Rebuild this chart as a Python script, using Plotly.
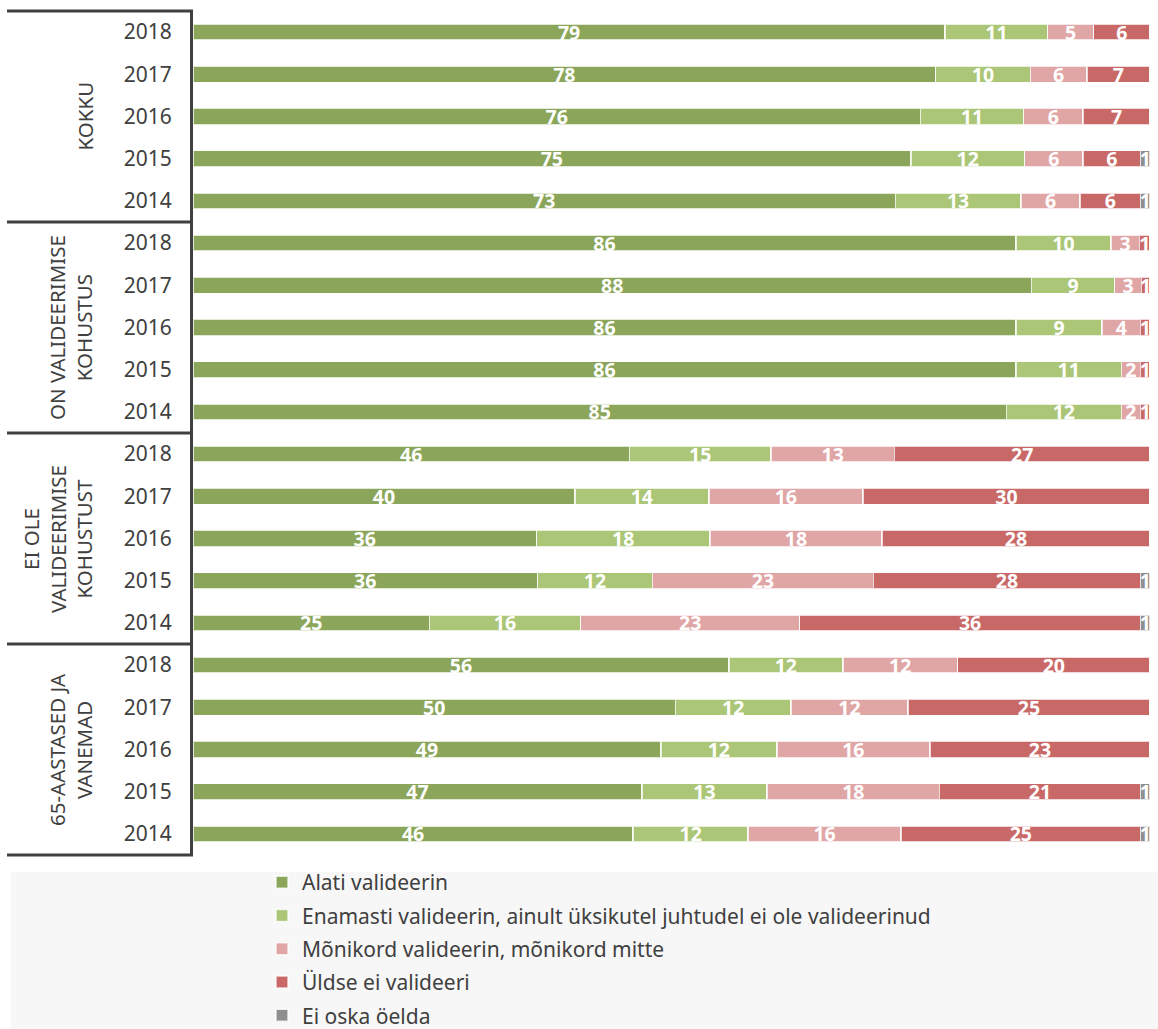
import plotly.graph_objects as go

# ---- data ----
groups = ["KOKKU", "ON VALIDEERIMISE<br>KOHUSTUS", "EI OLE<br>VALIDEERIMISE<br>KOHUSTUST", "65-AASTASED JA<br>VANEMAD"]
years = ["2018", "2017", "2016", "2015", "2014"]

series_names = [
    "Alati valideerin",
    "Enamasti valideerin, ainult üksikutel juhtudel ei ole valideerinud",
    "Mõnikord valideerin, mõnikord mitte",
    "Üldse ei valideeri",
    "Ei oska öelda",
]

# values per row (groups x years, top to bottom)
alati = [78.6, 77.6, 76.0, 75.0, 73.4,
         86.0, 87.6, 86.0, 86.0, 85.0,
         45.6, 39.9, 35.9, 36.0, 24.7,
         56.0, 50.4, 48.9, 46.9, 46.0]
enamasti = [10.7, 9.9, 10.8, 11.9, 13.1,
            9.9, 8.7, 9.0, 11.0, 12.0,
            14.8, 14.0, 18.1, 12.0, 15.8,
            11.9, 12.1, 12.1, 13.1, 12.0]
monikord = [4.8, 5.9, 6.2, 6.1, 6.2,
            3.0, 2.8, 4.0, 2.0, 2.0,
            12.9, 16.1, 18.0, 23.1, 22.9,
            12.0, 12.2, 16.0, 18.0, 16.0]
uldse = [5.9, 6.6, 7.0, 6.0, 6.3,
         1.1, 0.9, 1.0, 1.0, 1.0,
         26.7, 30.0, 28.0, 27.9, 35.6,
         20.1, 25.3, 23.0, 21.0, 25.0]
ei_oska = [0, 0, 0, 1.0, 1.0,
           0, 0, 0, 0, 0,
           0, 0, 0, 1.0, 1.0,
           0, 0, 0, 1.0, 1.0]

colors = ["#8BA65A", "#AAC676", "#E0A6A6", "#C96967", "#8F8F8F"]

series = [alati, enamasti, monikord, uldse, ei_oska]

n_rows = len(groups) * len(years)
ypos = list(range(n_rows))
ticktext = years * len(groups)

fig = go.Figure()
for name, vals, col in zip(series_names, series, colors):
    txt = [f"{v:.0f}" if v > 0 else "" for v in vals]
    fig.add_trace(go.Bar(
        y=ypos, x=vals, name=name, orientation="h",
        marker=dict(color=col, line=dict(color="rgba(255,255,255,0.75)", width=1.5)),
        text=txt, textposition="inside", insidetextanchor="middle",
        constraintext="none", textangle=0,
        textfont=dict(color="white", size=19.5, family="Noto Sans", weight="bold"),
        width=0.38, legendgroup=name,
    ))

FIG_W, FIG_H = 1158, 1029
W_L, W_R, M_T, M_B = 193, 8, 11, 174
plot_w = FIG_W - W_L - W_R
plot_h = FIG_H - M_T - M_B

def px_x(px):
    return (px - W_L) / plot_w

def px_y(py):
    return (FIG_H - M_B - py) / plot_h

shapes = []
# gray legend background
shapes.append(dict(type="rect", xref="paper", yref="paper",
                   x0=px_x(11), x1=px_x(1160), y0=px_y(872), y1=px_y(1035),
                   fillcolor="#F7F7F7", line=dict(width=0), layer="below"))
# group dividers
ng = len(groups)
for i in range(ng + 1):
    yv = 1 - i * len(years) / n_rows
    shapes.append(dict(type="line", xref="paper", yref="paper",
                       x0=px_x(7), x1=0, y0=yv, y1=yv,
                       line=dict(color="#404040", width=3)))

annotations = []
for i, g in enumerate(groups):
    annotations.append(dict(
        text=g, xref="paper", yref="y", x=px_x(100), y=i * len(years) + 2,
        xanchor="right", yanchor="middle", textangle=-90, showarrow=False,
        font=dict(size=20.5, color="#404040", family="Noto Sans"), align="center"))

fig.update_layout(
    width=FIG_W, height=FIG_H,
    margin=dict(l=W_L, r=W_R, t=M_T, b=M_B, autoexpand=False),
    barmode="stack",
    paper_bgcolor="white", plot_bgcolor="white",
    xaxis=dict(range=[0, 100], visible=False, fixedrange=True),
    yaxis=dict(tickvals=ypos, ticktext=ticktext, range=[n_rows - 0.5, -0.5],
               showline=True, linecolor="#404040", linewidth=3,
               showgrid=False, zeroline=False, ticks="",
               ticklabelstandoff=14, fixedrange=True,
               tickfont=dict(size=21, color="#404040", family="Noto Sans")),
    shapes=shapes, annotations=annotations,
    showlegend=True,
    legend=dict(orientation="v", x=px_x(262), xanchor="left",
                yref="container", y=1 - 862 / FIG_H, yanchor="top",
                bgcolor="rgba(0,0,0,0)", font=dict(size=21, color="#404040", family="Noto Sans"),
                traceorder="grouped", tracegroupgap=3, itemwidth=30),
    font=dict(family="Noto Sans"),
)

fig.write_html("out.html", config={"displayModeBar": False},
               post_script="document.body.style.margin='0';")
